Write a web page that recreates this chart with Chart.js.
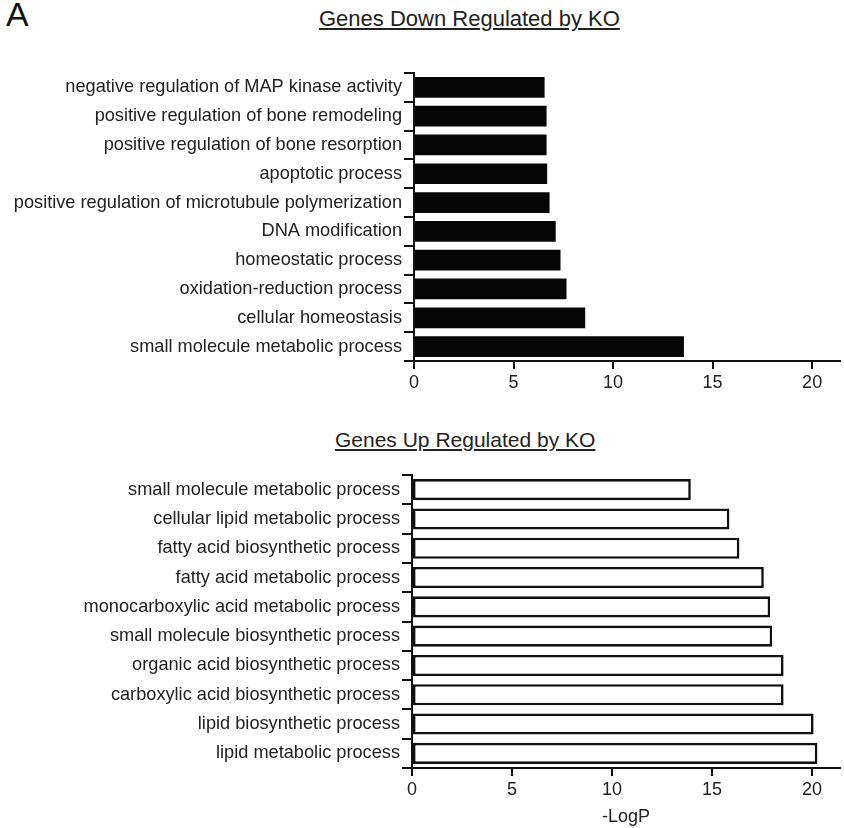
<!DOCTYPE html>
<html>
<head>
<meta charset="utf-8">
<script src="https://cdn.jsdelivr.net/npm/chart.js@4"></script>
<style>
  body { margin: 0; background: #fff; font-family: "Liberation Sans", Arial, sans-serif; }
  #page { position: relative; width: 844px; height: 828px; overflow: hidden; }
  .box { position: absolute; left: 0; width: 844px; }
  .ttl { position: absolute; font-size: 21px; color: #222; text-decoration: underline; white-space: nowrap; }
  #panel { position: absolute; left: 6px; top: -5px; font-size: 34px; color: #111; }
</style>
</head>
<body>
<div id="page">
  <div id="panel">A</div>
  <div class="ttl" style="left:319px;top:6px;font-size:22px;">Genes Down Regulated by KO</div>
  <div class="box" style="top:60px;height:340px;"><canvas id="chartDown"></canvas></div>
  <div class="ttl" style="left:335px;top:428px;">Genes Up Regulated by KO</div>
  <div class="box" style="top:462px;height:366px;"><canvas id="chartUp"></canvas></div>
</div>
<script>
// data (-LogP)
const downLabels = [
  'negative regulation of MAP kinase activity',
  'positive regulation of bone remodeling',
  'positive regulation of bone resorption',
  'apoptotic process',
  'positive regulation of microtubule polymerization',
  'DNA modification',
  'homeostatic process',
  'oxidation-reduction process',
  'cellular homeostasis',
  'small molecule metabolic process'
];
const downValues = [6.56, 6.66, 6.66, 6.69, 6.81, 7.12, 7.36, 7.66, 8.6, 13.56];

const upLabels = [
  'small molecule metabolic process',
  'cellular lipid metabolic process',
  'fatty acid biosynthetic process',
  'fatty acid metabolic process',
  'monocarboxylic acid metabolic process',
  'small molecule biosynthetic process',
  'organic acid biosynthetic process',
  'carboxylic acid biosynthetic process',
  'lipid biosynthetic process',
  'lipid metabolic process'
];
const upValues = [13.94, 15.87, 16.37, 17.59, 17.91, 18.01, 18.58, 18.58, 20.08, 20.27];

const xTicks = [0, 5, 10, 15, 20];

Chart.defaults.font.family = '"Liberation Sans", Arial, sans-serif';
Chart.defaults.color = '#111';

function buatChart(id, labels, values, opts) {
  return new Chart(document.getElementById(id), {
    type: 'bar',
    data: {
      labels: labels,
      datasets: [{
        data: values,
        backgroundColor: opts.fill,
        borderColor: '#111',
        borderWidth: opts.border,
        borderSkipped: false,
        categoryPercentage: 1,
        barPercentage: 0.72,
      }]
    },
    options: {
      indexAxis: 'y',
      responsive: true,
      maintainAspectRatio: false,
      animation: false,
      layout: { padding: { top: opts.padTop, right: 4, left: 0, bottom: 0 } },
      plugins: { legend: { display: false }, tooltip: { enabled: false } },
      scales: {
        y: {
          afterFit: s => { s.width = opts.axisX; },
          border: { display: true, color: '#111', width: 2 },
          grid: { display: true, drawOnChartArea: false, drawTicks: true, tickLength: 10, color: '#111', lineWidth: 2 },
          ticks: { font: { size: 18.2 }, color: '#222', padding: 2, autoSkip: false }
        },
        x: {
          min: 0,
          max: 21.4,
          afterFit: s => { s.height = opts.xHeight; },
          afterBuildTicks: s => { s.ticks = xTicks.map(v => ({ value: v })); },
          border: { display: true, color: '#111', width: 2 },
          grid: { display: true, drawOnChartArea: false, drawTicks: true, tickLength: 8, color: '#111', lineWidth: 2 },
          ticks: { font: { size: 18 }, color: '#222', padding: 3, maxRotation: 0 },
          title: {
            display: !!opts.xTitle,
            text: opts.xTitle || '',
            font: { size: 18 },
            color: '#222',
            padding: { top: 1, bottom: 0 }
          }
        }
      }
    }
  });
}

buatChart('chartDown', downLabels, downValues, { fill: '#060606', border: 0, padTop: 8, axisX: 414, xHeight: 39 });
buatChart('chartUp', upLabels, upValues, { fill: '#ffffff', border: 2.6, padTop: 13, axisX: 412, xHeight: 60, xTitle: '-LogP' });
</script>
</body>
</html>
